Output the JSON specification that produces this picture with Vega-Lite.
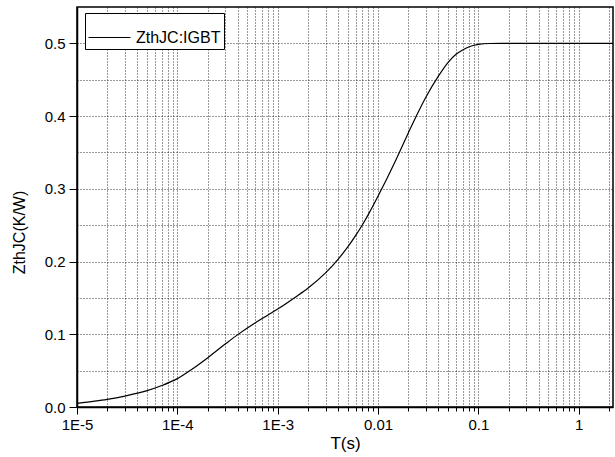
{
  "$schema": "https://vega.github.io/schema/vega-lite/v6.json",
  "autosize": {"type": "none"},
  "padding": {"left": 77, "top": 7, "right": 2, "bottom": 50},
  "width": 536,
  "height": 400,
  "background": "white",
  "config": {
    "font": "Liberation Sans",
    "view": {"stroke": "black", "strokeWidth": 1.5},
    "axis": {"domainColor": "black", "domainWidth": 1.5, "tickColor": "black", "tickWidth": 1, "labelColor": "black", "titleColor": "black", "titleFontWeight": "normal", "gridColor": "#111111", "gridDash": [1, 2], "gridWidth": 1, "gridOpacity": 0.85}
  },
  "data": {"values": [
    {"t": 0.00001, "z": 0.005, "s": "ZthJC:IGBT"},
    {"t": 0.000015, "z": 0.008, "s": "ZthJC:IGBT"},
    {"t": 0.00002, "z": 0.0105, "s": "ZthJC:IGBT"},
    {"t": 0.00003, "z": 0.015, "s": "ZthJC:IGBT"},
    {"t": 0.00004, "z": 0.019, "s": "ZthJC:IGBT"},
    {"t": 0.00005, "z": 0.0225, "s": "ZthJC:IGBT"},
    {"t": 0.00007, "z": 0.0295, "s": "ZthJC:IGBT"},
    {"t": 0.0001, "z": 0.039, "s": "ZthJC:IGBT"},
    {"t": 0.00014, "z": 0.052, "s": "ZthJC:IGBT"},
    {"t": 0.0002, "z": 0.0675, "s": "ZthJC:IGBT"},
    {"t": 0.0003, "z": 0.0865, "s": "ZthJC:IGBT"},
    {"t": 0.0004, "z": 0.0995, "s": "ZthJC:IGBT"},
    {"t": 0.0006, "z": 0.1159, "s": "ZthJC:IGBT"},
    {"t": 0.0008, "z": 0.1264, "s": "ZthJC:IGBT"},
    {"t": 0.001, "z": 0.1346, "s": "ZthJC:IGBT"},
    {"t": 0.0015, "z": 0.151, "s": "ZthJC:IGBT"},
    {"t": 0.002, "z": 0.1633, "s": "ZthJC:IGBT"},
    {"t": 0.003, "z": 0.1844, "s": "ZthJC:IGBT"},
    {"t": 0.004, "z": 0.2031, "s": "ZthJC:IGBT"},
    {"t": 0.005, "z": 0.2201, "s": "ZthJC:IGBT"},
    {"t": 0.006, "z": 0.2359, "s": "ZthJC:IGBT"},
    {"t": 0.007, "z": 0.2506, "s": "ZthJC:IGBT"},
    {"t": 0.008, "z": 0.2645, "s": "ZthJC:IGBT"},
    {"t": 0.01, "z": 0.2897, "s": "ZthJC:IGBT"},
    {"t": 0.015, "z": 0.339, "s": "ZthJC:IGBT"},
    {"t": 0.02, "z": 0.3765, "s": "ZthJC:IGBT"},
    {"t": 0.025, "z": 0.4046, "s": "ZthJC:IGBT"},
    {"t": 0.03, "z": 0.426, "s": "ZthJC:IGBT"},
    {"t": 0.04, "z": 0.455, "s": "ZthJC:IGBT"},
    {"t": 0.05, "z": 0.474, "s": "ZthJC:IGBT"},
    {"t": 0.06, "z": 0.485, "s": "ZthJC:IGBT"},
    {"t": 0.07, "z": 0.491, "s": "ZthJC:IGBT"},
    {"t": 0.08, "z": 0.495, "s": "ZthJC:IGBT"},
    {"t": 0.1, "z": 0.4985, "s": "ZthJC:IGBT"},
    {"t": 0.13, "z": 0.4998, "s": "ZthJC:IGBT"},
    {"t": 0.2, "z": 0.5, "s": "ZthJC:IGBT"},
    {"t": 0.5, "z": 0.5, "s": "ZthJC:IGBT"},
    {"t": 2.2, "z": 0.5, "s": "ZthJC:IGBT"}
  ]},
  "mark": {"type": "line", "strokeWidth": 1.2, "interpolate": "monotone", "clip": true},
  "encoding": {
    "x": {
      "field": "t", "type": "quantitative",
      "scale": {"type": "log", "domain": [0.00001, 2.2], "nice": false},
      "axis": {
        "title": "T(s)", "titleFontSize": 17, "titlePadding": 3,
        "values": [0.00001,0.00002,0.00003,0.00004,0.00005,0.00006,0.00007,0.00008,0.00009,0.0001,0.0002,0.0003,0.0004,0.0005,0.0006,0.0007,0.0008,0.0009,0.001,0.002,0.003,0.004,0.005,0.006,0.007,0.008,0.009,0.01,0.02,0.03,0.04,0.05,0.06,0.07,0.08,0.09,0.1,0.2,0.3,0.4,0.5,0.6,0.7,0.8,0.9,1,2],
        "labelExpr": "datum.value > 0.9e-5 && datum.value < 1.1e-5 ? '1E-5' : datum.value > 0.9e-4 && datum.value < 1.1e-4 ? '1E-4' : datum.value > 0.9e-3 && datum.value < 1.1e-3 ? '1E-3' : datum.value > 0.009 && datum.value < 0.011 ? '0.01' : datum.value > 0.09 && datum.value < 0.11 ? '0.1' : datum.value > 0.9 && datum.value < 1.1 ? '1' : ''",
        "labelFontSize": 15, "labelFlush": false, "labelOverlap": false, "labelBound": false, "labelPadding": 3,
        "tickSize": {"condition": {"test": "abs(log(datum.value)/LN10 - round(log(datum.value)/LN10)) < 0.001", "value": 7}, "value": 4},
        "grid": true
      }
    },
    "y": {
      "field": "z", "type": "quantitative",
      "scale": {"domain": [0, 0.55], "nice": false, "zero": true},
      "axis": {
        "title": "ZthJC(K/W)", "titleFontSize": 16, "titleY": 225, "titleX": -50,
        "values": [0, 0.05, 0.1, 0.15, 0.2, 0.25, 0.3, 0.35, 0.4, 0.45, 0.5],
        "labelExpr": "abs(datum.value*10 - round(datum.value*10)) < 0.001 ? format(datum.value, '.1f') : ''",
        "labelFontSize": 15, "labelPadding": 4, "labelOverlap": false, "labelFlush": false,
        "tickSize": 8,
        "tickOpacity": {"condition": {"test": "abs(datum.value*10 - round(datum.value*10)) < 0.001", "value": 1}, "value": 0},
        "grid": true
      }
    },
    "color": {
      "field": "s", "type": "nominal",
      "scale": {"domain": ["ZthJC:IGBT"], "range": ["black"]},
      "legend": {
        "title": null, "orient": "none", "legendX": 8, "legendY": 6,
        "symbolType": "stroke", "symbolSize": 1764, "symbolStrokeWidth": 1, "symbolStrokeColor": "black",
        "labelFontSize": 16, "labelColor": "black", "labelOffset": 5,
        "strokeColor": "black", "fillColor": "white", "padding": 3
      }
    }
  }
}
